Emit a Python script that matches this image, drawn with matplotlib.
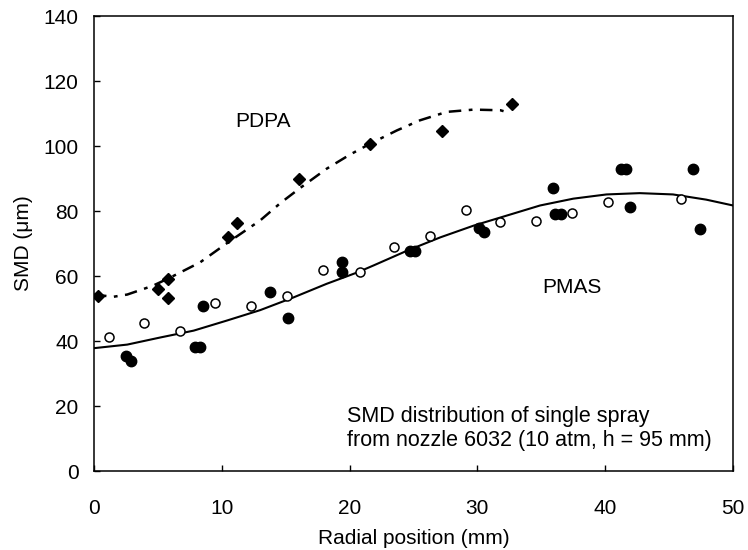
# SMD distribution of single spray: PDPA vs PMAS
import matplotlib
matplotlib.use("Agg")
import matplotlib.pyplot as plt

plt.rcParams['font.family'] = ['Liberation Sans', 'DejaVu Sans']

# PDPA measurements (filled diamonds)
pdpa_x = [0.35, 5.0, 5.75, 5.75, 10.5, 11.2, 16.0, 21.6, 27.2, 32.7]
pdpa_y = [54.0, 56.0, 59.1, 53.2, 71.9, 76.4, 90.0, 100.6, 104.5, 112.8]

# PMAS measurements, filled circles
pmas_fx = [2.5, 2.9, 7.9, 8.3, 8.5, 13.8, 15.2, 19.4, 19.4, 24.7, 25.1,
           30.1, 30.5, 35.9, 36.1, 36.5, 41.2, 41.6, 41.9, 46.9, 47.4]
pmas_fy = [35.5, 33.9, 38.2, 38.2, 50.8, 55.1, 47.1, 64.2, 61.3, 67.6, 67.6,
           74.8, 73.5, 87.1, 79.1, 79.1, 92.8, 92.8, 81.2, 93.0, 74.5]

# PMAS measurements, open circles
pmas_ox = [1.2, 3.9, 6.7, 9.5, 12.3, 15.1, 17.9, 20.8, 23.5, 26.3,
           29.1, 31.8, 34.6, 37.4, 40.2, 45.9]
pmas_oy = [41.1, 45.5, 43.2, 51.6, 50.7, 53.9, 61.7, 61.1, 68.9, 72.3,
           80.4, 76.6, 76.9, 79.3, 82.7, 83.8]

# trend lines
pdpa_cx = [0, 1.5, 2.6, 4.6, 6.0, 8.3, 10.4, 13.0, 14.6, 16.1, 18.2, 20.0,
           21.6, 23.7, 25.5, 27.6, 29.7, 31.8, 32.5]
pdpa_cy = [54.3, 53.6, 54.3, 57.0, 59.6, 64.2, 70.1, 77.1, 82.5, 87.0, 93.0,
           97.3, 100.7, 104.8, 107.9, 110.5, 111.2, 111.0, 110.2]

pmas_cx = [0, 2.6, 5.2, 7.8, 10.4, 13.0, 15.6, 18.2, 20.6, 21.9, 24.5, 27.1,
           29.7, 32.3, 34.9, 37.5, 40.1, 42.7, 45.3, 47.9, 50]
pmas_cy = [37.8, 38.9, 41.1, 43.2, 46.3, 49.5, 53.4, 57.6, 61.1, 63.3, 67.8,
           71.9, 75.5, 78.6, 81.7, 83.8, 85.1, 85.5, 85.1, 83.5, 81.7]

xticks = [0, 10, 20, 30, 40, 50]
yticks = [0, 20, 40, 60, 80, 100, 120, 140]

fig = plt.figure(figsize=(7.48, 5.5), dpi=100)
ax = fig.add_axes([0.1257, 0.1436, 0.8543, 0.8273])

ax.plot(pdpa_cx, pdpa_cy, color='black', lw=1.8, dashes=(5, 3, 1.5, 3))
ax.plot(pmas_cx, pmas_cy, color='black', lw=1.5)

ax.plot(pdpa_x, pdpa_y, 'D', color='black', ms=6.5, ls='none')
ax.plot(pmas_fx, pmas_fy, 'o', color='black', ms=7.5, ls='none')
ax.plot(pmas_ox, pmas_oy, 'o', mfc='white', mec='black', mew=1.1, ms=6.5,
        ls='none')

ax.text(13.25, 107.6, 'PDPA', fontsize=15, ha='center', va='center')
ax.text(37.4, 56.5, 'PMAS', fontsize=15, ha='center', va='center')
ax.text(19.8, 13.1, 'SMD distribution of single spray\n'
        'from nozzle 6032 (10 atm, h = 95 mm)',
        fontsize=15.5, ha='left', va='center', linespacing=1.2)

ax.set_xlim(0, 50)
ax.set_ylim(0, 140)
ax.set_xticks(xticks)
ax.set_yticks(yticks)
ax.tick_params(axis='both', direction='in', length=4.5, width=1,
               labelsize=15)
ax.tick_params(axis='x', pad=20)
ax.tick_params(axis='y', pad=11)
for s in ax.spines.values():
    s.set_linewidth(1.1)

ax.set_xlabel('Radial position (mm)', fontsize=15)
ax.set_ylabel('SMD (μm)', fontsize=15)
ax.xaxis.set_label_coords(0.5, -0.128)
ax.yaxis.set_label_coords(-0.095, 0.5)

plt.savefig('out.png', dpi=100)
